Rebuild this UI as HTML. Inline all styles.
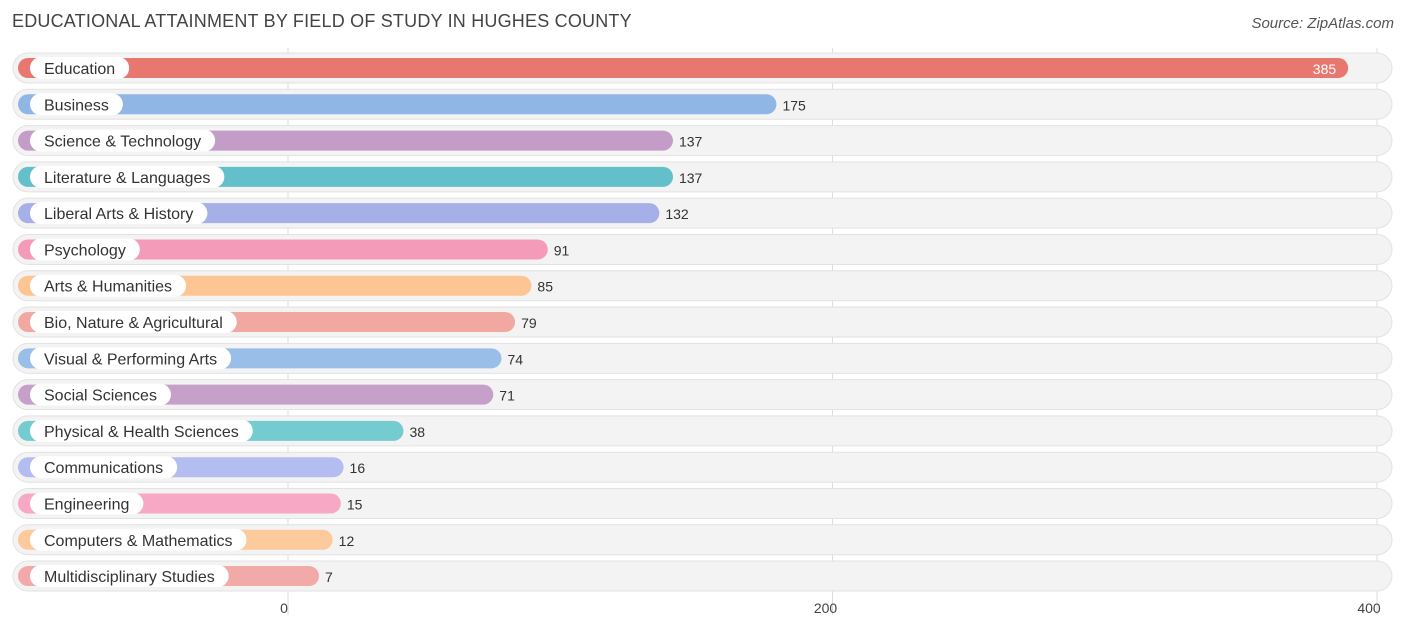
<!DOCTYPE html>
<html><head><meta charset="utf-8"><style>
body{margin:0;background:#fff;font-family:"Liberation Sans",sans-serif;}
#wrap{position:relative;width:1406px;height:631px;overflow:hidden}
.title{position:absolute;left:12px;top:11px;font-size:18px;color:#444;letter-spacing:0.2px}
.src{position:absolute;right:12px;top:15px;font-size:15px;color:#555;font-style:italic}
</style></head><body>
<div id="wrap">
<div class="title">EDUCATIONAL ATTAINMENT BY FIELD OF STUDY IN HUGHES COUNTY</div>
<div class="src">Source: ZipAtlas.com</div>
<svg id="svg" width="1406" height="631" style="position:absolute;left:0;top:0"></svg>
</div>
<script>
const categories=["Education","Business","Science & Technology","Literature & Languages","Liberal Arts & History","Psychology","Arts & Humanities","Bio, Nature & Agricultural","Visual & Performing Arts","Social Sciences","Physical & Health Sciences","Communications","Engineering","Computers & Mathematics","Multidisciplinary Studies"];
const values=[385,175,137,137,132,91,85,79,74,71,38,16,15,12,7];
const colors=["#e8776f","#8fb6e4","#c39dc7","#63bfca","#a6afe7","#f59bba","#fcc593","#f0a8a1","#99bee7","#c5a1c9","#74cbd0","#b4bdef","#f6a8c5","#fcca9c","#f1aaa7"];
const ticks=[0,200,400];
const svg=document.getElementById('svg');const NS="http://www.w3.org/2000/svg";
const x=v=>288+v*(1377-288)/400;
const y=i=>68+i*36.29;
function mk(t,a,p){const e=document.createElementNS(NS,t);for(const k in a)e.setAttribute(k,a[k]);(p||svg).appendChild(e);return e;}
ticks.forEach(t=>{
 const l=mk('line',{x1:x(t),x2:x(t),y1:48,y2:615,stroke:'#ddd','stroke-width':1});
 
 
});
categories.forEach((c,i)=>{
 const cy=y(i);
 const g=mk('g',{});
 
 
 mk('rect',{x:13,y:cy-15,width:1379,height:30,rx:15,fill:'#f3f3f3',stroke:'#e2e2e2'},g);
 const end=x(values[i])+12;
 const b=mk('rect',{x:18,y:cy-10,width:end-18,height:20,rx:10,fill:colors[i]},g);
 
 
 const lt=mk('text',{x:44,y:cy+6,'font-size':16,fill:'#333'},g);lt.textContent=c;
 const w=lt.getComputedTextLength();
 const pill=mk('rect',{x:30,y:cy-11,width:w+28,height:22,rx:11,fill:'#fff'},g);
 g.insertBefore(pill,lt);
 
 
 const inside=i===0;
 const vt=mk('text',{x:inside?end-12:end+6,y:cy+6,'font-size':14,fill:inside?'#fff':'#333','text-anchor':inside?'end':'start'},g);
 vt.textContent=values[i];
 
 
});
ticks.forEach(t=>{
 const tx=mk('text',{x:x(t)-(t===0?4:(t===200?7:8)),y:613,'font-size':14,fill:'#444','text-anchor':'middle'});
 tx.textContent=t;
 
 
});
</script>
</body></html>
